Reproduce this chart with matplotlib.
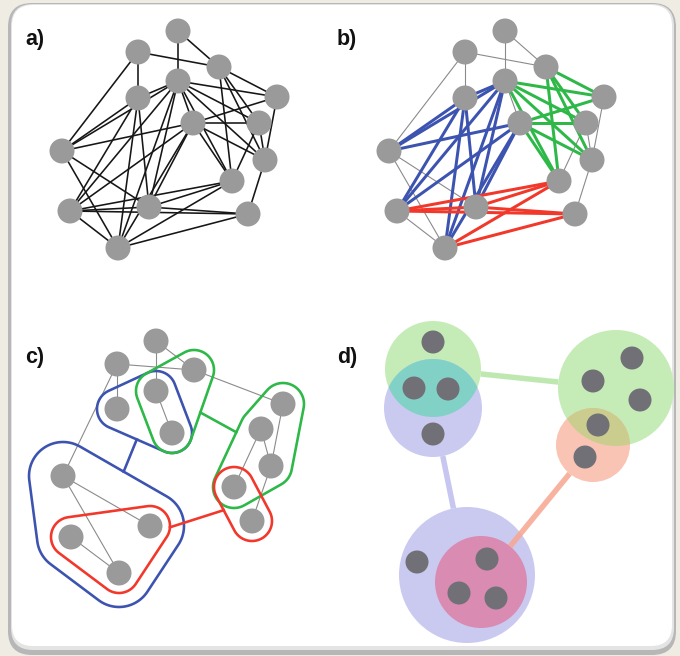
import numpy as np
import matplotlib
matplotlib.use("Agg")
import matplotlib.pyplot as plt
from matplotlib.patches import Circle, FancyBboxPatch, Polygon
from matplotlib.path import Path

# network: 15 nodes, named A..O
nodes = list("ABCDEFGHIJKLMNO")

# link communities (panel b colours), the rest are plain links
gray_links = ["AD", "AC", "BC", "BE", "BI", "DG", "HJ", "HK", "FJ", "JN", "IM", "IO", "LO"]
blue_links = ["DE", "DI", "DL", "DM", "DO", "EI", "EL", "EM", "EO", "GI", "GL", "GM", "GO"]
green_links = ["CF", "CH", "CJ", "CK", "DF", "DH", "DJ", "DK", "GF", "GH", "GJ", "GK"]
red_links = ["LK", "LN", "LM", "MK", "MN", "OK", "ON"]

# links kept in the node-community view
c_links = gray_links + ["CF"]

# node communities for panel c: members, colour, and which pairs are joined
c_groups = ["DEG", "CDG", "FHJK", "KN", "ILMO", "LMO"]
c_group_color = ["blue", "green", "green", "red", "blue", "red"]
c_joins = [(4, 0), (1, 2), (5, 3)]

# meta network for panel d
d_groups = ["green_a", "blue_a", "green_b", "salmon", "blue_b", "pink"]
d_joins = [("green_a", "green_b"), ("blue_a", "blue_b"), ("salmon", "pink")]

# --- layout (pixel coordinates, y down) ---
ab_x = [178, 138, 219, 178, 138, 277, 193, 259, 62, 265, 232, 70, 149, 248, 118]
ab_y = [31, 52, 67, 81, 98, 97, 123, 123, 151, 160, 181, 211, 207, 214, 248]
b_shift = 327

c_x = [156, 117, 194, 156, 117, 283, 172, 261, 63, 271, 234, 71, 150, 252, 119]
c_y = [341, 364, 370, 391, 409, 404, 433, 429, 476, 466, 487, 537, 526, 521, 573]
c_pad = [20, 20, 21, 20, 34, 20]

d_circle = {
    "green_a": (433, 369, 48),
    "blue_a": (433, 408, 49),
    "green_b": (616, 388, 58),
    "salmon": (593, 445, 37),
    "blue_b": (467, 575, 68),
    "pink": (481, 582, 46),
}
d_node_x = [433, 414, 448, 433, 632, 593, 640, 598, 585, 417, 487, 459, 496]
d_node_y = [342, 388, 389, 434, 358, 381, 400, 425, 457, 562, 559, 593, 598]

# --- styles ---
NODE = "#9a9a9a"
R = 12.5
line_cols = {"blue": "#3c53b0", "green": "#2db848", "red": "#f2372b"}
d_cols = {"green_a": "#c5ecb7", "blue_a": "#cacaf1", "green_b": "#c5ecb7",
          "salmon": "#fac4b4", "blue_b": "#cacaf1", "pink": "#d98bb2"}
d_line_cols = {"green_a": "#b4e5a4", "blue_a": "#bcbcee", "salmon": "#f7a690"}


def px(v):
    return v * 0.72


def convex_hull(pts):
    pts = sorted(map(tuple, pts))
    def cross(o, a, b):
        return (a[0] - o[0]) * (b[1] - o[1]) - (a[1] - o[1]) * (b[0] - o[0])
    lower, upper = [], []
    for p in pts:
        while len(lower) >= 2 and cross(lower[-2], lower[-1], p) <= 0:
            lower.pop()
        lower.append(p)
    for p in reversed(pts):
        while len(upper) >= 2 and cross(upper[-2], upper[-1], p) <= 0:
            upper.pop()
        upper.append(p)
    return np.array(lower[:-1] + upper[:-1])


def rounded_hull(pts, pad):
    t = np.linspace(0, 2 * np.pi, 72, endpoint=False)
    ring = np.c_[np.cos(t), np.sin(t)] * pad
    cloud = (pts[:, None, :] + ring[None]).reshape(-1, 2)
    return convex_hull(cloud)


def gap_segment(c1, c2, path1, path2):
    t = np.linspace(0, 1, 3000)[:, None]
    pts = c1 + t * (c2 - c1)
    free = ~path1.contains_points(pts) & ~path2.contains_points(pts)
    seg = pts[free]
    return seg[0], seg[-1]


fig = plt.figure(figsize=(6.8, 6.56), dpi=100, facecolor="#efece4")
ax = fig.add_axes([0, 0, 1, 1])
ax.set_xlim(0, 680)
ax.set_ylim(656, 0)
ax.axis("off")

# card background with a soft grey rim
ax.add_patch(FancyBboxPatch((8, 3), 668, 652, boxstyle="round,pad=0,rounding_size=24",
                            fc="#b7b7b7", ec="none", zorder=0))
ax.add_patch(FancyBboxPatch((11, 4), 663, 646, boxstyle="round,pad=0,rounding_size=22",
                            fc="#e4e4e4", ec="none", zorder=0))
ax.add_patch(FancyBboxPatch((12, 5), 660, 641, boxstyle="round,pad=0,rounding_size=21",
                            fc="white", ec="none", zorder=0))

label_font = dict(fontsize=15.5, fontweight="bold", family=["Liberation Sans", "DejaVu Sans"],
                  va="center", ha="left", color="#111111")
for lab, (lx, ly) in zip(["a)", "b)", "c)", "d)"], [(25, 40), (337, 40), (25, 357), (337, 357)]):
    ax.text(lx, ly, lab, **label_font)

idx = {n: i for i, n in enumerate(nodes)}


def draw_links(links, xs, ys, color, lw, z=2):
    for e in links:
        a, b = idx[e[0]], idx[e[1]]
        ax.plot([xs[a], xs[b]], [ys[a], ys[b]], color=color, lw=lw,
                solid_capstyle="round", zorder=z)


def draw_nodes(xs, ys, color, r):
    for x, y in zip(xs, ys):
        ax.add_patch(Circle((x, y), r, fc=color, ec="none", zorder=5))


# a) whole network
all_links = gray_links + blue_links + green_links + red_links
draw_links(all_links, ab_x, ab_y, "#161616", px(1.6))
draw_nodes(ab_x, ab_y, NODE, R)

# b) link communities
bx = [x + b_shift for x in ab_x]
draw_links(gray_links, bx, ab_y, "#8a8a8a", px(1.1))
draw_links(blue_links, bx, ab_y, line_cols["blue"], px(3.0), z=3)
draw_links(green_links, bx, ab_y, line_cols["green"], px(3.0), z=3)
draw_links(red_links, bx, ab_y, line_cols["red"], px(3.0), z=3)
draw_nodes(bx, ab_y, NODE, R)

# c) overlapping node communities
draw_links(c_links, c_x, c_y, "#8a8a8a", px(1.1))
cpts = np.c_[c_x, c_y].astype(float)
hulls = []
for grp, pad, col in zip(c_groups, c_pad, c_group_color):
    members = cpts[[idx[n] for n in grp]]
    h = rounded_hull(members, pad)
    hulls.append((h, members.mean(axis=0)))
    ax.add_patch(Polygon(h, closed=True, fc="none", ec=line_cols[col], lw=px(2.6),
                         joinstyle="round", zorder=4))
for i, j in c_joins:
    p0, p1 = gap_segment(hulls[i][1], hulls[j][1], Path(hulls[i][0]), Path(hulls[j][0]))
    ax.plot([p0[0], p1[0]], [p0[1], p1[1]], color=line_cols[c_group_color[i]],
            lw=px(2.6), zorder=4)
draw_nodes(c_x, c_y, NODE, R)

# d) community meta-network
circ = {}
for g in d_groups:
    x, y, r = d_circle[g]
    circ[g] = Circle((x, y), r, fc=d_cols[g], ec="none", zorder=2)
    ax.add_patch(circ[g])

# overlaps between neighbouring communities
for a, b, col in [("green_a", "blue_a", "#82d1c7"), ("green_b", "salmon", "#cacd8e")]:
    x, y, r = d_circle[a]
    ov = Circle((x, y), r, fc=col, ec="none", zorder=3)
    ax.add_patch(ov)
    ov.set_clip_path(circ[b])

for a, b in d_joins:
    xa, ya, ra = d_circle[a]
    xb, yb, rb = d_circle[b]
    u = np.array([xb - xa, yb - ya], dtype=float)
    u /= np.hypot(*u)
    p0 = np.array([xa, ya]) + u * ra
    p1 = np.array([xb, yb]) - u * rb
    ax.plot([p0[0], p1[0]], [p0[1], p1[1]], color=d_line_cols[a], lw=px(5.5),
            alpha=0.85, solid_capstyle="butt", zorder=4)

draw_nodes(d_node_x, d_node_y, "#707076", 11.5)

fig.savefig("out.png", dpi=100, facecolor=fig.get_facecolor())
